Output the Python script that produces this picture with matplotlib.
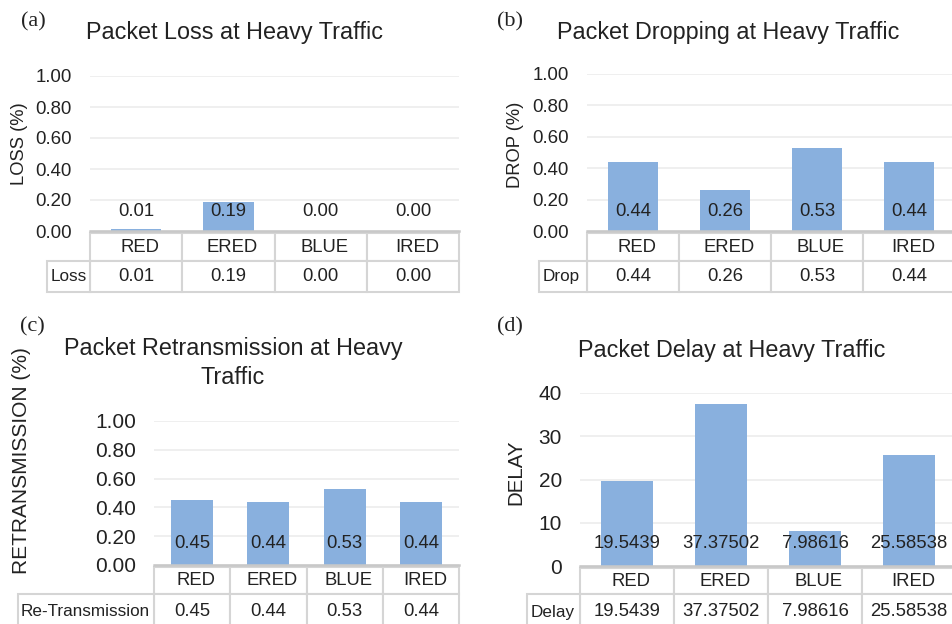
import matplotlib
matplotlib.use("Agg")
import matplotlib.pyplot as plt
from matplotlib.patches import Rectangle
from matplotlib.transforms import blended_transform_factory

plt.rcParams['font.family'] = ['Liberation Sans', 'DejaVu Sans']

# data
methods = ["RED", "ERED", "BLUE", "IRED"]
loss = [0.01, 0.19, 0.00, 0.00]
drop = [0.44, 0.26, 0.53, 0.44]
retrans = [0.45, 0.44, 0.53, 0.44]
delay = [19.5439, 37.37502, 7.98616, 25.58538]

W, H = 952, 624
BAR = "#89B0DE"
GRID = "#ECECEC"
EDGE = "#D5D5D5"
TXT = "#222222"

fig = plt.figure(figsize=(W / 100, H / 100), dpi=100)


def px_axes(l, t, r, b):
    return fig.add_axes([l / W, 1 - b / H, (r - l) / W, (b - t) / H])


def cell(ax, tr, x0, x1, y0, y1, text, fs, ha="center", shift=0.0):
    ax.add_patch(Rectangle((x0, y0), x1 - x0, y1 - y0, transform=tr,
                           facecolor="white", edgecolor=EDGE, lw=1.5,
                           clip_on=False, zorder=5))
    if ha == "left":
        tx = x0 + 0.035
    else:
        tx = (x0 + x1) / 2 + shift
    ax.text(tx, (y0 + y1) / 2, text, transform=tr, ha=ha, va="center",
            fontsize=fs, color=TXT, clip_on=False, zorder=6)


def panel(box, values, fmt, ylim, yticks, tickfmt, tick_fs, rowname,
          lab_left, head_bot, tab_bot, lab_off):
    l, t, r, b = box
    ax = px_axes(l, t, r, b)
    x = range(len(methods))
    ax.bar(x, values, width=0.55, color=BAR, zorder=2)
    ax.set_xlim(-0.5, len(methods) - 0.5)
    ax.set_ylim(*ylim)
    ax.set_yticks(yticks)
    ax.set_yticklabels([tickfmt.format(v) for v in yticks], fontsize=tick_fs,
                       color=TXT)
    ax.set_xticks([])
    ax.tick_params(axis="y", length=0, pad=13)
    ax.grid(axis="y", color=GRID, lw=1.2, zorder=0)
    for s in ["top", "right", "left"]:
        ax.spines[s].set_visible(False)
    ax.spines["bottom"].set_color("#C8C8C8")
    ax.spines["bottom"].set_linewidth(1.8)
    ax.spines["bottom"].set_zorder(7)

    for i, v in enumerate(values):
        ax.annotate(fmt(v), xy=(i, 0), xytext=(0, lab_off),
                    textcoords="offset pixels", ha="center", va="center",
                    fontsize=13.3, color=TXT, zorder=4)

    # data table under the axis: data x, axes-fraction y
    tr = blended_transform_factory(ax.transData, ax.transAxes)
    h_ax = b - t
    colw = (r - l) / len(methods)
    y_top = -2 / h_ax
    y_mid = -(head_bot - b) / h_ax
    y_bot = -(tab_bot - b) / h_ax
    for j, m in enumerate(methods):
        cell(ax, tr, j - 0.5, j + 0.5, y_mid, y_top, m, 13.3, shift=4 / colw)
        cell(ax, tr, j - 0.5, j + 0.5, y_bot, y_mid, fmt(values[j]), 13.3)
    x_lab = -0.5 - (l - lab_left) / colw
    cell(ax, tr, x_lab, -0.5, y_bot, y_mid, rowname, 12.3, ha="left")
    return ax


f2 = lambda v: f"{v:.2f}"

panel((90, 76, 459, 231), loss, f2, (0, 1), [0, 0.2, 0.4, 0.6, 0.8, 1.0],
      "{:.2f}", 13.4, "Loss", 47, 261, 292, 20)
panel((587, 74, 955, 231), drop, f2, (0, 1), [0, 0.2, 0.4, 0.6, 0.8, 1.0],
      "{:.2f}", 13.4, "Drop", 539, 261, 292, 20)
panel((154, 421, 459, 565), retrans, f2, (0, 1), [0, 0.2, 0.4, 0.6, 0.8, 1.0],
      "{:.2f}", 15, "Re-Transmission", 18, 594, 630, 22)
panel((580, 393, 956, 566), delay, str, (0, 40), [0, 10, 20, 30, 40],
      "{:g}", 15, "Delay", 527, 594, 630, 23)

# titles, axis titles and panel tags
def ftext(x, y, s, **kw):
    fig.text(x / W, 1 - y / H, s, **kw)

tkw = dict(ha="center", va="center", fontsize=16.8, color=TXT)
ftext(234, 32, "Packet Loss at Heavy Traffic", **tkw)
ftext(728, 32, "Packet Dropping at Heavy Traffic", **tkw)
ftext(233, 349, "Packet Retransmission at Heavy", **tkw)
ftext(233, 377, "Traffic", **tkw)
ftext(732, 350, "Packet Delay at Heavy Traffic", **tkw)

ykw = dict(ha="center", va="center", rotation=90, color=TXT)
ftext(19, 144, "LOSS (%)", fontsize=13.2, **ykw)
ftext(516, 145, "DROP (%)", fontsize=13.2, **ykw)
ftext(22, 461, "RETRANSMISSION (%)", fontsize=15, **ykw)
ftext(516, 472, "DELAY", fontsize=14.8, **ykw)

gkw = dict(ha="center", va="center", fontsize=16, family="Liberation Serif",
           color=TXT)
ftext(33, 22, "(a)", **gkw)
ftext(510, 22, "(b)", **gkw)
ftext(32, 327, "(c)", **gkw)
ftext(510, 327, "(d)", **gkw)

fig.savefig("out.png", dpi=100)
